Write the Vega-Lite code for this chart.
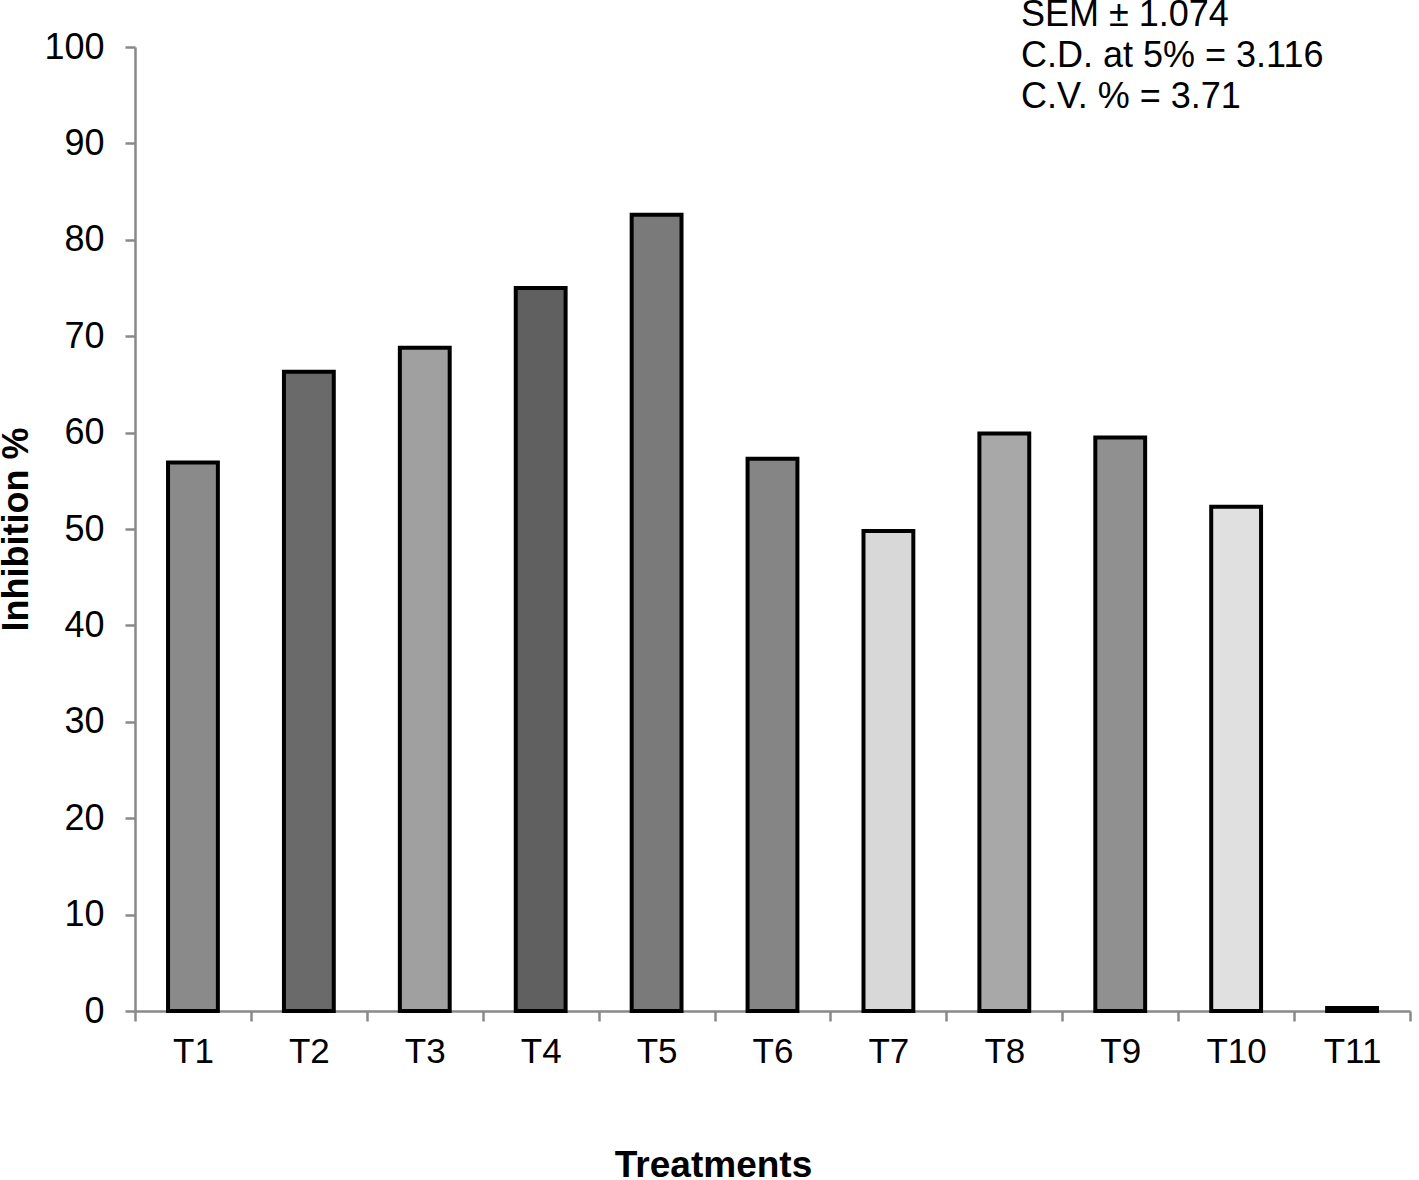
{
  "$schema": "https://vega.github.io/schema/vega-lite/v6.json",
  "width": 1275,
  "height": 964,
  "autosize": {"type": "none"},
  "padding": {"left": 135, "top": 47, "right": 9, "bottom": 169},
  "background": "white",
  "config": {"view": {"stroke": null}, "font": "Liberation Sans"},
  "title": {
    "text": ["SEM ± 1.074", "C.D. at 5% = 3.116", "C.V. % = 3.71"],
    "anchor": "start",
    "frame": "group",
    "align": "left",
    "dx": 886,
    "offset": -87,
    "fontSize": 36,
    "fontWeight": "normal",
    "lineHeight": 41,
    "color": "black",
    "font": "Liberation Sans"
  },
  "data": {
    "values": [
      {"Treatment": "T1", "Inhibition": 56.9},
      {"Treatment": "T2", "Inhibition": 66.3},
      {"Treatment": "T3", "Inhibition": 68.8},
      {"Treatment": "T4", "Inhibition": 75.0},
      {"Treatment": "T5", "Inhibition": 82.6},
      {"Treatment": "T6", "Inhibition": 57.3},
      {"Treatment": "T7", "Inhibition": 49.8},
      {"Treatment": "T8", "Inhibition": 59.9},
      {"Treatment": "T9", "Inhibition": 59.5},
      {"Treatment": "T10", "Inhibition": 52.3},
      {"Treatment": "T11", "Inhibition": 0.3}
    ]
  },
  "mark": {"type": "bar", "stroke": "black", "strokeWidth": 4, "width": {"band": 0.43}},
  "encoding": {
    "x": {
      "field": "Treatment",
      "type": "nominal",
      "sort": null,
      "scale": {"paddingInner": 0, "paddingOuter": 0},
      "axis": {
        "title": "Treatments",
        "titleFontSize": 37,
        "titleFontWeight": "bold",
        "titleColor": "black",
        "titlePadding": 78,
        "titleAnchor": "middle",
        "titleX": 578,
        "labelFontSize": 35,
        "labelColor": "black",
        "labelPadding": 13,
        "labelAngle": 0,
        "domainColor": "#898989",
        "domainWidth": 2.5,
        "tickColor": "#898989",
        "tickWidth": 2.5,
        "tickSize": 10,
        "tickBand": "extent",
        "grid": false
      }
    },
    "y": {
      "field": "Inhibition",
      "type": "quantitative",
      "scale": {"domain": [0, 100]},
      "axis": {
        "title": "Inhibition %",
        "titleFontSize": 36,
        "titleFontWeight": "bold",
        "titleColor": "black",
        "titlePadding": 8,
        "labelFontSize": 36,
        "labelColor": "black",
        "labelPadding": 21,
        "values": [0, 10, 20, 30, 40, 50, 60, 70, 80, 90, 100],
        "domainColor": "#898989",
        "domainWidth": 2.5,
        "tickColor": "#898989",
        "tickWidth": 2.5,
        "tickSize": 10,
        "grid": false
      }
    },
    "color": {
      "field": "Treatment",
      "type": "nominal",
      "sort": null,
      "scale": {
        "domain": ["T1", "T2", "T3", "T4", "T5", "T6", "T7", "T8", "T9", "T10", "T11"],
        "range": ["#8a8a8a", "#6a6a6a", "#a0a0a0", "#606060", "#7a7a7a", "#858585", "#d8d8d8", "#a8a8a8", "#909090", "#e0e0e0", "#000000"]
      },
      "legend": null
    }
  }
}
